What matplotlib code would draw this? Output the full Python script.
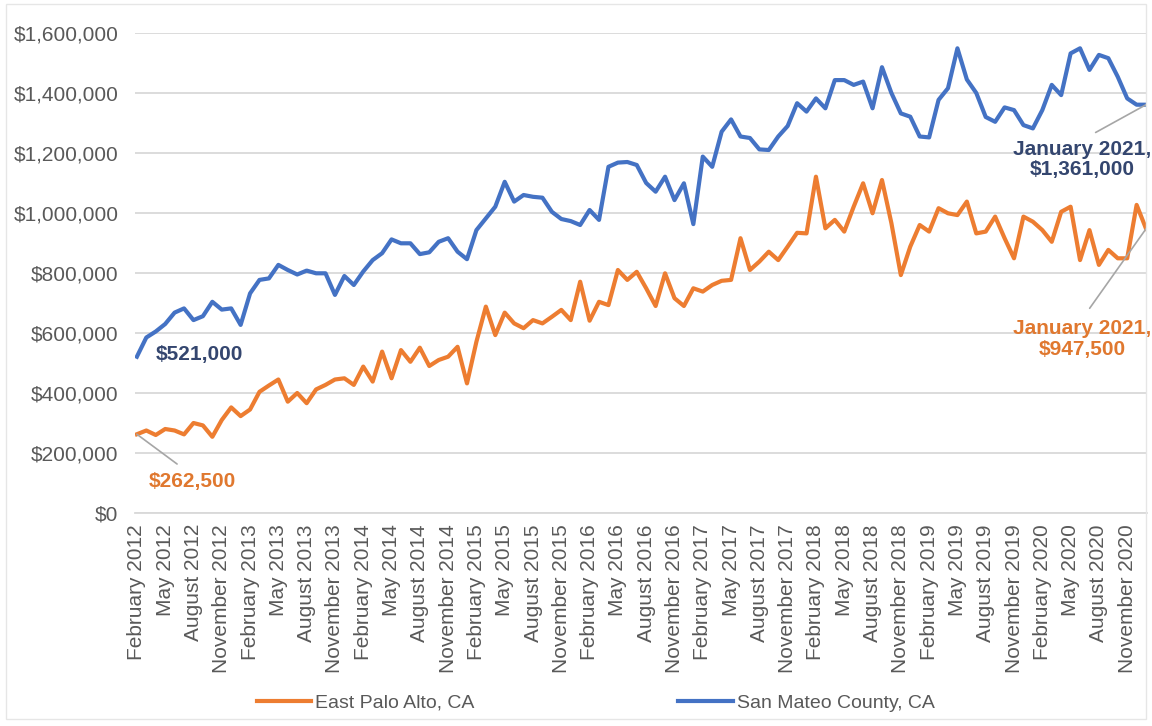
import matplotlib
matplotlib.use("Agg")
import matplotlib.pyplot as plt
from matplotlib.patches import Rectangle
import numpy as np
import pandas as pd

# ---------------- data ----------------
start_month = "2012-02-01"
n_months = 108
months = pd.date_range(start_month, periods=n_months, freq="MS")
month_labels = [d.strftime("%B %Y") for d in months]

east_palo_alto = [
    262.5, 275, 260, 280, 275, 262, 300, 292, 254, 310, 352, 323,
    345, 404, 425, 445, 371, 400, 366, 412, 427, 445, 449, 427,
    488, 438, 538, 449, 543, 504, 551, 490, 510, 521, 554, 432,
    571, 688, 593, 668, 632, 616, 643, 632, 654, 677, 643, 771,
    641, 704, 693, 810, 777, 804, 749, 690, 799, 716, 690, 749,
    738, 760, 774, 777, 916, 810, 838, 871, 843, 888, 934, 932,
    1121, 949, 977, 938, 1021, 1099, 999, 1110, 966, 793, 888, 960,
    938, 1016, 999, 993, 1038, 932, 938, 988, 916, 849, 988, 971,
    943, 904, 1004, 1021, 843, 943, 827, 877, 849, 849, 1027, 947.5,
]
san_mateo = [
    521, 585, 605, 630, 668, 682, 643, 656, 704, 678, 682, 627,
    732, 777, 782, 827, 810, 795, 808, 799, 799, 727, 790, 760,
    805, 843, 866, 912, 899, 899, 863, 869, 904, 916, 871, 846,
    943, 982, 1021, 1104, 1038, 1060, 1054, 1051, 1004, 980, 973, 960,
    1010, 977, 1154, 1168, 1170, 1160, 1100, 1071, 1121, 1043, 1099, 963,
    1188, 1154, 1271, 1312, 1255, 1250, 1212, 1210, 1255, 1290, 1366, 1338,
    1382, 1349, 1443, 1443, 1427, 1438, 1349, 1486, 1400, 1332, 1321, 1255,
    1252, 1377, 1416, 1549, 1445, 1400, 1320, 1304, 1352, 1343, 1293, 1282,
    1343, 1427, 1393, 1532, 1549, 1477, 1527, 1516, 1454, 1382, 1361, 1361,
]
series_names = ["East Palo Alto, CA", "San Mateo County, CA"]
y_ticks = [0, 200000, 400000, 600000, 800000, 1000000, 1200000, 1400000, 1600000]

epa = np.array(east_palo_alto) * 1000
smc = np.array(san_mateo) * 1000

# ---------------- style ----------------
plt.rcParams["font.family"] = ["Liberation Sans", "DejaVu Sans"]
ORANGE = "#ED7D31"
BLUE = "#4472C4"
NAVY_TXT = "#34466F"
ORANGE_TXT = "#E0782F"
GRID = "#D9D9D9"
TICK = "#595959"
LEADER = "#A6A6A6"

fig = plt.figure(figsize=(11.52, 7.26), dpi=100)
W, H = 1152, 726
ax = fig.add_axes([135 / W, 1 - 513 / H, (1147 - 135) / W, 480 / H])

x = np.arange(n_months)
l1, = ax.plot(x, epa, color=ORANGE, lw=3.0, solid_joinstyle="round", label=series_names[0])
l2, = ax.plot(x, smc, color=BLUE, lw=3.0, solid_joinstyle="round", label=series_names[1])

ax.set_xlim(-0.2, n_months - 1 + 0.1)
ax.set_ylim(0, 1600000)
ax.set_yticks(y_ticks)
ax.set_yticklabels(["${:,.0f}".format(v) for v in y_ticks])
tick_idx = list(range(0, n_months, 3))
ax.set_xticks(tick_idx)
ax.set_xticklabels([month_labels[i] for i in tick_idx], rotation=90, ha="center", va="top")
ax.tick_params(axis="y", length=0, labelsize=15, colors=TICK, pad=12)
ax.tick_params(axis="x", length=0, labelsize=15, colors=TICK, pad=8)

ax.yaxis.grid(True, color=GRID, lw=1.3)
ax.set_axisbelow(True)
for s in ["top", "right", "left"]:
    ax.spines[s].set_visible(False)
ax.spines["bottom"].set_color(GRID)
ax.spines["bottom"].set_linewidth(1.3)

# ---------------- annotations ----------------
ax.annotate("$521,000", xy=(0, smc[0]), xytext=(63, 2), textcoords="offset pixels",
            ha="center", va="center", fontsize=15, fontweight="bold", color=NAVY_TXT)
ax.annotate("$262,500", xy=(0, epa[0]), xytext=(55, -47), textcoords="offset pixels",
            ha="center", va="center", fontsize=15, fontweight="bold", color=ORANGE_TXT,
            arrowprops=dict(arrowstyle="-", color=LEADER, lw=1.2, shrinkA=6, shrinkB=0,
                            relpos=(0.45, 1)))
last = n_months - 1
ax.annotate("January 2021,\n$1,361,000", xy=(last, smc[last]), xytext=(-64, -55),
            textcoords="offset pixels", ha="center", va="center", fontsize=15,
            fontweight="bold", color=NAVY_TXT, linespacing=1.1, annotation_clip=False,
            arrowprops=dict(arrowstyle="-", color=LEADER, lw=1.2, shrinkA=7, shrinkB=0,
                            relpos=(0.5, 1)))
ax.annotate("January 2021,\n$947,500", xy=(last, epa[last]), xytext=(-64, -110),
            textcoords="offset pixels", ha="center", va="center", fontsize=15,
            fontweight="bold", color=ORANGE_TXT, linespacing=1.1, annotation_clip=False,
            arrowprops=dict(arrowstyle="-", color=LEADER, lw=1.2, shrinkA=7, shrinkB=0,
                            relpos=(0.5, 1)))

# ---------------- legend ----------------
fig.legend(handles=[l1, l2], labels=series_names, loc="center",
           bbox_to_anchor=(0.517, 1 - 703 / H), ncol=2, frameon=False, fontsize=14,
           handlelength=2.8, handletextpad=0.2, columnspacing=10.5,
           labelcolor=TICK)

fig.patches.append(Rectangle((0.005, 0.01), 0.99, 0.985, transform=fig.transFigure,
                             fill=False, edgecolor="#E6E6E6", lw=1))

fig.savefig("out.png", dpi=100, facecolor="white")
